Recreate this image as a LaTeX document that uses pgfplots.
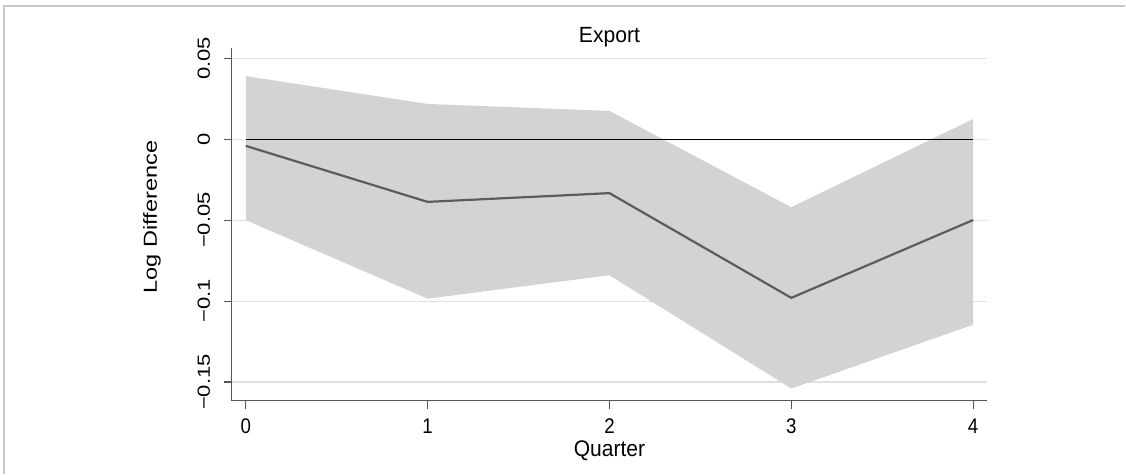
\documentclass[border=0pt]{standalone}
\usepackage{fontspec}
\setmainfont{Liberation Sans}
\usepackage{pgfplots}
\usepackage{pgfplotstable}
\pgfplotsset{compat=1.18}
\usepgfplotslibrary{fillbetween}

\definecolor{bandgray}{RGB}{211,211,211}
\definecolor{linegray}{RGB}{92,92,92}
\definecolor{gridgray}{RGB}{224,224,224}
\definecolor{axisgray}{RGB}{85,85,85}
\definecolor{framegray}{RGB}{200,200,200}

% impulse response: point estimate and confidence band
\pgfplotstableread{
q   est      lo       hi
0  -0.0041  -0.0500   0.0390
1  -0.0387  -0.0985   0.0218
2  -0.0333  -0.0840   0.0175
3  -0.0980  -0.1540  -0.0420
4  -0.0499  -0.1146   0.0125
}\irf

\begin{document}
\begin{tikzpicture}
\begin{axis}[
  at={(116pt,-24pt)}, anchor=north west,
  scale only axis, width=378pt, height=176.5pt,
  xmin=-0.0769, xmax=4.077, ymin=-0.1615, ymax=0.0564,
  axis x line*=bottom, axis y line*=left,
  axis line style={axisgray, line width=0.6pt},
  xtick={0,1,2,3,4}, xticklabels={0,1,2,3,4},
  ytick={-0.15,-0.1,-0.05,0,0.05},
  yticklabels={−0.15,−0.1,−0.05,0,0.05},
  tick align=outside, major tick length=4pt,
  tick style={axisgray, line width=0.6pt},
  ymajorgrids, major grid style={gridgray, line width=0.6pt},
  xticklabel style={font=\fontsize{10.6}{12}\selectfont, xscale=0.88, anchor=base, inner sep=0pt},
  xticklabel shift=12.5pt,
  yticklabel style={font=\fontsize{11}{12}\selectfont, xscale=0.8, rotate=90, anchor=base, inner sep=0pt},
  yticklabel shift=7pt,
  title={Export},
  every axis title/.style={at={(axis description cs:0.5,1.015)}, anchor=base, inner sep=0pt,
    font=\fontsize{11}{12}\selectfont, xscale=0.96},
  xlabel={Quarter},
  every axis x label/.style={at={(axis description cs:0.5,-0.159)}, anchor=base, inner sep=0pt,
    font=\fontsize{11.3}{12}\selectfont, xscale=0.93},
  ylabel={Log Difference},
  every axis y label/.style={at={(axis description cs:-0.0993,0.52)}, xscale=0.8, rotate=90,
    anchor=base, inner sep=0pt, font=\fontsize{11.8}{12}\selectfont},
]
\addplot[name path=upper, draw=none] table[x=q, y=hi] {\irf};
\addplot[name path=lower, draw=none] table[x=q, y=lo] {\irf};
\addplot[bandgray, draw=none] fill between[of=upper and lower];
\addplot[black, line width=0.5pt] coordinates {(0,0) (4,0)};
\addplot[linegray, line width=1.1pt] table[x=q, y=est] {\irf};
\end{axis}
\draw[framegray, line width=1pt] (2pt,-237pt) -- (2pt,-3pt) -- (563pt,-3pt);
\path (0pt,0pt) (563pt,-237pt);
\end{tikzpicture}
\end{document}
